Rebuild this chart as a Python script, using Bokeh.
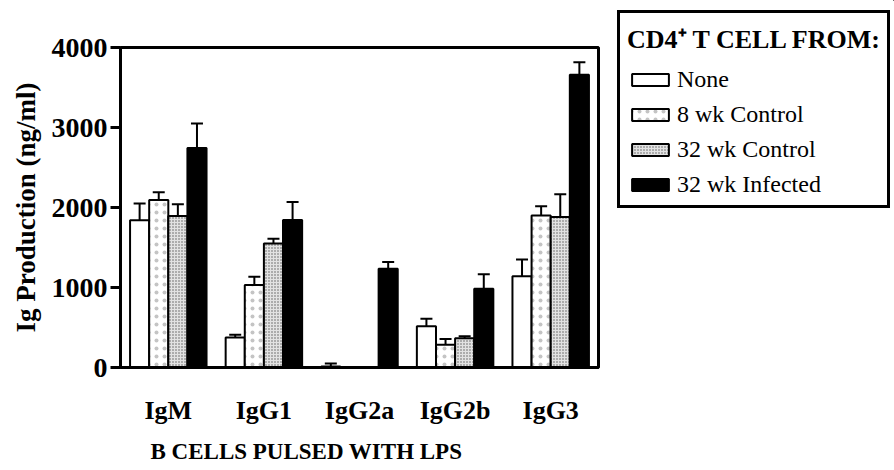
from bokeh.plotting import figure
from bokeh.layouts import row, column
from bokeh.models import (ColumnDataSource, FactorRange, Range1d, Legend, LegendItem,
                          FixedTicker, Title)
from bokeh.transform import dodge
from bokeh.embed import file_html
from bokeh.resources import INLINE

categories = ["IgM", "IgG1", "IgG2a", "IgG2b", "IgG3"]
series_names = ["None", "8 wk Control", "32 wk Control", "32 wk Infected"]

none_vals = [1840, 375, 12, 515, 1140]
none_err = [210, 35, 38, 95, 210]
ctl8_vals = [2095, 1030, 0, 285, 1900]
ctl8_err = [95, 105, 0, 70, 115]
ctl32_vals = [1895, 1550, 0, 365, 1880]
ctl32_err = [145, 60, 0, 25, 285]
inf_vals = [2745, 1845, 1235, 985, 3660]
inf_err = [305, 225, 85, 180, 155]

y_ticks = [0, 1000, 2000, 3000, 4000]

SERIF = "Liberation Serif"

p = figure(frame_width=478, frame_height=320, x_range=FactorRange(*categories, range_padding=0),
           y_range=Range1d(0, 4000), output_backend="svg", toolbar_location=None,
           min_border_left=120, min_border_top=47, min_border_right=9, min_border_bottom=103)
p.grid.visible = False
p.outline_line_color = "black"
p.outline_line_width = 3
p.background_fill_color = "white"
p.border_fill_color = "white"

styles = [
    dict(fill_color="white"),
    dict(fill_color="white", hatch_pattern="dot", hatch_scale=8, hatch_color="#c4c4c4", hatch_weight=1),
    dict(fill_color="#e2e2e2", hatch_pattern="dot", hatch_scale=3, hatch_color="#5a5a5a", hatch_weight=1),
    dict(fill_color="black"),
]
offsets = [-0.3, -0.1, 0.1, 0.3]
all_vals = [none_vals, ctl8_vals, ctl32_vals, inf_vals]
all_errs = [none_err, ctl8_err, ctl32_err, inf_err]

for name, vals, errs, off, st in zip(series_names, all_vals, all_errs, offsets, styles):
    src = ColumnDataSource(dict(cat=categories, top=vals))
    keep = [i for i, e in enumerate(errs) if e > 0]
    esrc = ColumnDataSource(dict(cat=[categories[i] for i in keep],
                                 top=[vals[i] for i in keep],
                                 upper=[vals[i] + errs[i] for i in keep]))
    ex = dodge("cat", off, range=p.x_range)
    p.segment(x0=ex, y0="top", x1=ex, y1="upper", source=esrc, line_color="black", line_width=2)
    p.scatter(x=ex, y="upper", marker="dash", size=12, line_width=2, line_color="black", source=esrc)
    p.vbar(x=dodge("cat", off, range=p.x_range), top="top", width=0.2, source=src,
           line_color="black", line_width=2, **st)

yax = p.yaxis[0]
yax.ticker = FixedTicker(ticks=y_ticks)
yax.minor_tick_line_color = None
yax.axis_line_width = 3
yax.major_tick_line_width = 3
yax.major_tick_out = 10
yax.major_tick_in = 0
yax.major_label_standoff = 3
yax.major_label_text_font = SERIF
yax.major_label_text_font_style = "bold"
yax.major_label_text_font_size = "28px"
yax.major_label_text_color = "black"
yax.axis_label = "Ig Production (ng/ml)"
yax.axis_label_text_font = SERIF
yax.axis_label_text_font_style = "bold"
yax.axis_label_text_font_size = "27px"
yax.axis_label_text_color = "black"
yax.axis_label_standoff = 8

xax = p.xaxis[0]
xax.axis_line_width = 3
xax.major_tick_line_color = None
xax.minor_tick_line_color = None
xax.major_label_standoff = 22
xax.major_label_text_font = SERIF
xax.major_label_text_font_style = "bold"
xax.major_label_text_font_size = "26px"
xax.major_label_text_color = "black"

p.add_layout(Title(text="B CELLS PULSED WITH LPS", align="left", offset=30, standoff=19,
                   text_font=SERIF, text_font_style="bold", text_font_size="23px",
                   text_color="black"), "below")

# legend panel (a separate, axis-less figure to the right of the chart)
lf = figure(width=287, height=470, x_range=Range1d(0, 1), y_range=Range1d(1, 2),
            output_backend="svg", toolbar_location=None,
            min_border_left=0, min_border_right=0, min_border_top=0, min_border_bottom=0)
lf.axis.visible = False
lf.grid.visible = False
lf.outline_line_color = None
lf.background_fill_color = "white"
lf.border_fill_color = "white"

items = []
for name, st in zip(series_names, styles):
    r = lf.vbar(x=[5], top=[5], bottom=[4], width=0.2, line_color="black", line_width=2, **st)
    items.append(LegendItem(label=name, renderers=[r]))

legend = Legend(items=items, location="top_left", title="CD4\u207a T CELL FROM:",
                title_text_font=SERIF, title_text_font_style="bold", title_text_font_size="26px",
                title_text_color="black", title_standoff=10,
                label_text_font=SERIF, label_text_font_size="24px", label_text_color="black",
                label_height=24, glyph_width=46, glyph_height=15, spacing=8,
                padding=7, margin=10, border_line_color="black", border_line_width=3,
                border_line_alpha=1.0,
                background_fill_color="white", background_fill_alpha=1.0, label_standoff=4)
lf.add_layout(legend, "center")

layout = row(p, column(lf, spacing=0), spacing=0)
open("out.html", "w").write(file_html(layout, INLINE))
